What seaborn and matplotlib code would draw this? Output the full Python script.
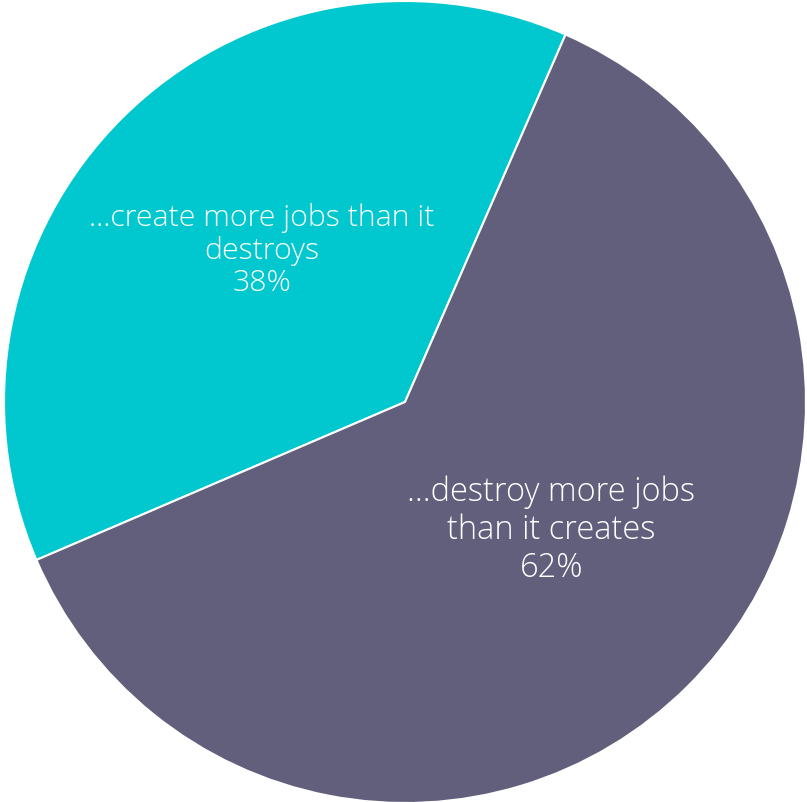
import matplotlib
matplotlib.use("Agg")
import matplotlib.pyplot as plt
import seaborn as sns
import numpy as np

sns.set_theme(style="white")
plt.rcParams["font.family"] = ["Open Sans", "DejaVu Sans"]

# Survey answer shares
categories = ["...create more jobs than it destroys", "...destroy more jobs than it creates"]
display_labels = ["...create more jobs than it\ndestroys", "...destroy more jobs\nthan it creates"]
shares = [38, 62]
colors = ["#00C8CE", "#625F7C"]

fig = plt.figure(figsize=(8.07, 8.02), dpi=100)
ax = fig.add_axes([0, 0, 1, 1])

wedges, _ = ax.pie(
    shares,
    colors=colors,
    startangle=66.4,
    counterclock=True,
    radius=1.0,
    wedgeprops=dict(edgecolor="white", linewidth=1.5),
)

# label placement (radius, angle tweak, size, spacing) per wedge
label_styles = [(0.52, -1.5, 21.8, 1.12), (0.485, 4.0, 23.5, 1.18)]
for w, lab, val, (r, dang, fs, ls) in zip(wedges, display_labels, shares, label_styles):
    mid = np.deg2rad((w.theta1 + w.theta2) / 2 + dang)
    ax.text(r * np.cos(mid), r * np.sin(mid), f"{lab}\n{val}%",
            ha="center", va="center", color="white", fontsize=fs,
            fontweight="light", linespacing=ls)

ax.set_xlim(-1.01, 1.0025)
ax.set_ylim(-0.9975, 1.0025)
ax.set_aspect("auto")
ax.axis("off")

fig.savefig("out.png", dpi=100, facecolor="white")
